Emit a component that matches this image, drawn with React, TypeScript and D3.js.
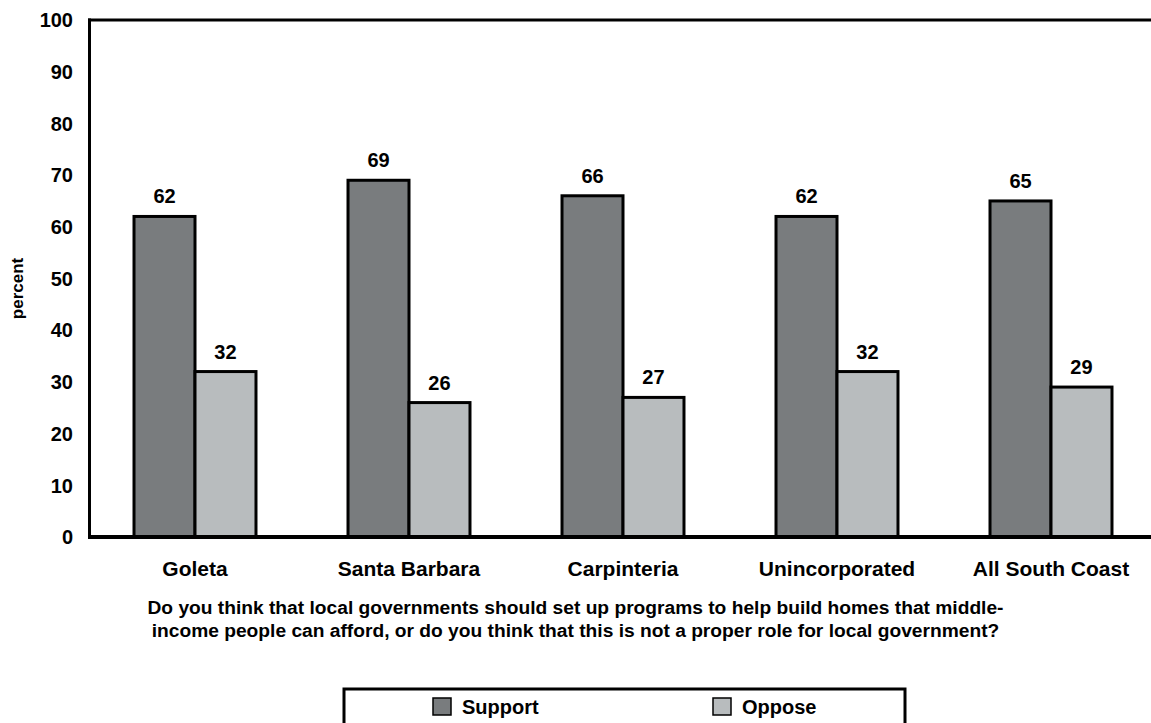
import React from "react";
import * as d3 from "d3";

const categories = ["Goleta", "Santa Barbara", "Carpinteria", "Unincorporated", "All South Coast"];
const seriesNames = ["Support", "Oppose"];
const supportValues = [62, 69, 66, 62, 65];
const opposeValues = [32, 26, 27, 32, 29];
const yTicks = [0, 10, 20, 30, 40, 50, 60, 70, 80, 90, 100];
const captionLines = [
  "Do you think that local governments should set up programs to help build homes that middle-",
  "income people can afford, or do you think that this is not a proper role for local government?",
];
const yAxisTitle = "percent";

const colors = ["#797c7e", "#b8bcbe"];
const FONT = "'Liberation Sans', Arial, Helvetica, sans-serif";

export default function App() {
  const W = 1151;
  const H = 723;
  const left = 88;
  const right = 1158;
  const top = 20;
  const bottom = 537;

  const y = d3.scaleLinear().domain([0, 100]).range([bottom, top]);
  const x = d3
    .scaleBand<string>()
    .domain(categories)
    .range([left, right])
    .paddingInner(0.43)
    .paddingOuter(0.215);
  const xs = d3.scaleBand<string>().domain(seriesNames).range([0, x.bandwidth()]).padding(0);

  const series = [supportValues, opposeValues];

  return (
    <svg
      width={W}
      height={H}
      style={{ position: "absolute", left: 0, top: 0, background: "#fff" }}
      fontFamily={FONT}
      fontWeight="bold"
    >
      {/* y tick labels */}
      {yTicks.map((t) => (
        <text key={t} x={73} y={y(t)} dy="0.36em" textAnchor="end" fontSize={20} fill="#000">
          {t}
        </text>
      ))}
      <text
        transform={`translate(23,${(top + bottom) / 2 + 10}) rotate(-90)`}
        textAnchor="middle"
        fontSize={17}
        fill="#000"
      >
        {yAxisTitle}
      </text>

      {/* bars */}
      {categories.map((c, i) =>
        series.map((vals, s) => {
          const bx = (x(c) as number) + (xs(seriesNames[s]) as number);
          const bw = xs.bandwidth();
          return (
            <g key={c + s}>
              <rect
                x={bx}
                y={y(vals[i])}
                width={bw}
                height={y(0) - y(vals[i])}
                fill={colors[s]}
                stroke="#000"
                strokeWidth={3}
              />
              <text
                x={bx + bw / 2}
                y={y(vals[i]) - 13}
                textAnchor="middle"
                fontSize={20}
                fill="#000"
              >
                {vals[i]}
              </text>
            </g>
          );
        })
      )}

      {/* frame */}
      <line x1={left + 1.5} x2={left + 1.5} y1={top - 1.5} y2={bottom + 1.5} stroke="#000" strokeWidth={3} />
      <line x1={left} x2={W} y1={top} y2={top} stroke="#000" strokeWidth={3} />
      <line x1={left} x2={W} y1={bottom} y2={bottom} stroke="#000" strokeWidth={4} />

      {/* category labels */}
      {categories.map((c) => (
        <text
          key={c}
          x={(x(c) as number) + x.bandwidth() / 2}
          y={575.5}
          textAnchor="middle"
          fontSize={21}
          fill="#000"
        >
          {c}
        </text>
      ))}

      {/* caption */}
      {captionLines.map((l, i) => (
        <text key={i} x={W / 2} y={614 + i * 23} textAnchor="middle" fontSize={19.2} fill="#000">
          {l}
        </text>
      ))}

      {/* legend */}
      <rect x={344} y={689} width={561} height={48} fill="#fff" stroke="#000" strokeWidth={3} />
      {seriesNames.map((n, i) => (
        <g key={n} transform={`translate(${433 + i * 280},698)`}>
          <rect x={0} y={0} width={18} height={17} fill={colors[i]} stroke="#000" strokeWidth={1.5} />
          <text x={29} y={15.5} fontSize={20} fill="#000">
            {n}
          </text>
        </g>
      ))}
    </svg>
  );
}
